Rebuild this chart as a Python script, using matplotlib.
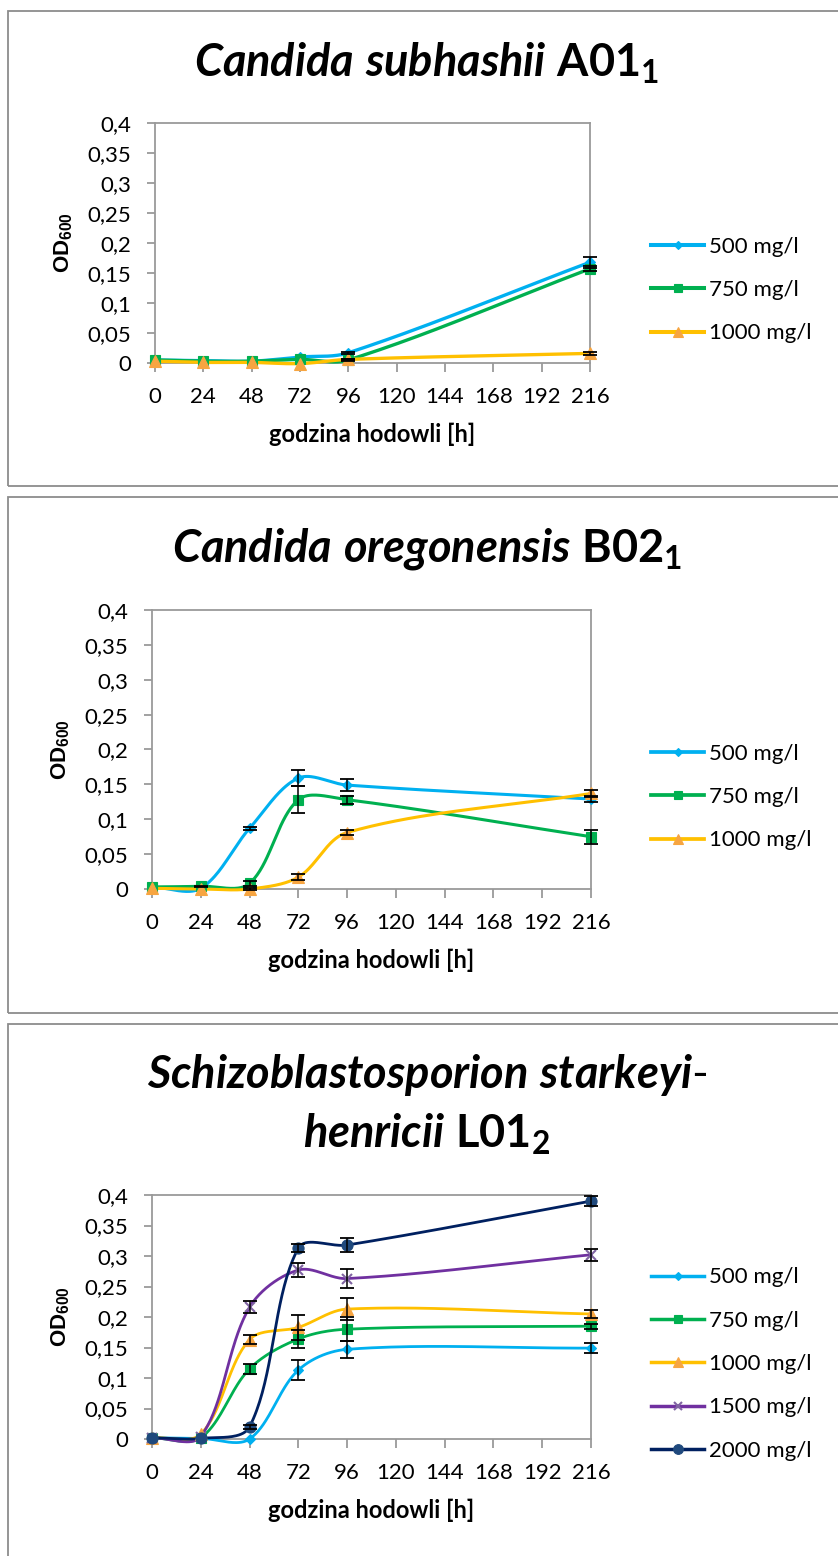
import numpy as np
import matplotlib
matplotlib.use('Agg')
import matplotlib.pyplot as plt
from matplotlib.patches import Rectangle
from matplotlib.lines import Line2D

plt.rcParams['font.family'] = ['Lato', 'DejaVu Sans']
plt.rcParams['mathtext.fontset'] = 'custom'
plt.rcParams['mathtext.it'] = 'Lato:italic:bold'
plt.rcParams['mathtext.bf'] = 'Lato:bold'
plt.rcParams['mathtext.sf'] = 'Liberation Sans:bold'

# ── dane ──────────────────────────────────────────
categories = ['0', '24', '48', '72', '96', '120', '144', '168', '192', '216']
hours = ['0', '24', '48', '72', '96', '216']
labels = ['500 mg/l', '750 mg/l', '1000 mg/l', '1500 mg/l', '2000 mg/l']
yticks = [0, 0.05, 0.1, 0.15, 0.2, 0.25, 0.3, 0.35, 0.4]
ytick_labels = ['0', '0,05', '0,1', '0,15', '0,2', '0,25', '0,3', '0,35', '0,4']

# Candida subhashii A01_1
a01_mean = [
    [0.005, 0.004, 0.003, 0.010, 0.017, 0.168],
    [0.005, 0.003, 0.003, 0.006, 0.005, 0.157],
    [0.003, 0.001, 0.001, -0.001, 0.006, 0.016],
]
a01_err = [
    [0, 0, 0, 0, 0.002, 0.009],
    [0, 0, 0, 0, 0.002, 0.004],
    [0, 0, 0, 0, 0.001, 0.002],
]

# Candida oregonensis B02_1
b02_mean = [
    [0.003, 0.001, 0.087, 0.159, 0.149, 0.129],
    [0.003, 0.004, 0.008, 0.128, 0.128, 0.075],
    [0.001, 0.000, 0.000, 0.017, 0.081, 0.137],
]
b02_err = [
    [0, 0, 0.002, 0.012, 0.009, 0.004],
    [0, 0.001, 0.004, 0.019, 0.006, 0.010],
    [0, 0, 0.001, 0.004, 0.004, 0.005],
]

# Schizoblastosporion starkeyi-henricii L01_2
l01_mean = [
    [0.002, 0.001, 0.000, 0.113, 0.147, 0.149],
    [0.002, 0.002, 0.115, 0.164, 0.180, 0.185],
    [0.002, 0.008, 0.163, 0.183, 0.213, 0.205],
    [0.002, 0.004, 0.216, 0.277, 0.263, 0.302],
    [0.002, 0.001, 0.020, 0.313, 0.318, 0.390],
]
l01_err = [
    [0, 0, 0, 0.016, 0.014, 0.008],
    [0, 0, 0.008, 0.014, 0.020, 0.004],
    [0, 0, 0.008, 0.020, 0.018, 0.006],
    [0, 0, 0.010, 0.012, 0.016, 0.010],
    [0, 0, 0.003, 0.006, 0.012, 0.008],
]

line_colors = ['#00B0F0', '#00B050', '#FFC000', '#7030A0', '#002060']
marker_face = ['#00B0F0', '#00B050', '#F7A541', '#8064A2', '#1F497D']
markers = ['D', 's', '^', 'x', 'o']
marker_sizes = [5, 7, 8, 7, 8]

W, H = 838, 1556
fig = plt.figure(figsize=(W / 100, H / 100), dpi=100)


def fx(px):
    return px / W


def fy(py):
    return 1 - py / H


def smooth(x, y, sx, sy, n=40):
    # wygładzona linia (Bezier) liczona w pikselach, jak w Excelu
    P = np.column_stack([np.asarray(x, float) * sx, np.asarray(y, float) * sy])
    out = [P[0]]
    t = np.linspace(0, 1, n)[1:, None]
    for i in range(len(P) - 1):
        pm = P[i - 1] if i > 0 else P[i]
        pp = P[i + 2] if i + 2 < len(P) else P[i + 1]
        seg = np.linalg.norm(P[i + 1] - P[i])
        l_in = np.linalg.norm(P[i] - pm)
        l_out = np.linalg.norm(pp - P[i + 1])
        c1 = P[i] + (P[i + 1] - pm) * seg / (seg + l_in) / 3
        c2 = P[i + 1] - (pp - P[i]) * seg / (seg + l_out) / 3
        b = ((1 - t) ** 3 * P[i] + 3 * (1 - t) ** 2 * t * c1
             + 3 * (1 - t) * t ** 2 * c2 + t ** 3 * P[i + 1])
        out.extend(b)
    out = np.array(out)
    return out[:, 0] / sx, out[:, 1] / sy


def panel(box, frame, means, errs, title_lines, legend_y, lw):
    # ramka wykresu
    fig.add_artist(Rectangle((fx(8), fy(frame[1])), fx(900), (frame[1] - frame[0]) / H,
                             transform=fig.transFigure, fill=False,
                             edgecolor='#8c8c8c', lw=1.3))
    l, t, r, b = box
    ax = fig.add_axes([fx(l), fy(b), fx(r - l), (b - t) / H])
    xpos = np.array([categories.index(h) for h in hours])
    px_x = (r - l) / 9
    px_y = (b - t) / 0.4
    handles = []
    for i in range(len(means)):
        m = np.array(means[i])
        e = np.array(errs[i])
        sx, sy = smooth(xpos, m, px_x, px_y)
        ax.plot(sx, sy, color=line_colors[i], lw=lw, clip_on=False, zorder=3,
                solid_capstyle='round')
        ax.plot(xpos, m, ls='none', marker=markers[i], ms=marker_sizes[i],
                mfc=marker_face[i], mec=marker_face[i],
                mew=1.5 if markers[i] == 'x' else 0.8, clip_on=False, zorder=4)
        k = e > 0
        ax.errorbar(xpos[k], m[k], yerr=e[k], fmt='none', ecolor='black',
                    elinewidth=1.1, capsize=5, capthick=1.3, clip_on=False, zorder=5)
        handles.append(Line2D([], [], color=line_colors[i], lw=lw + 0.5,
                              marker=markers[i], ms=marker_sizes[i] - 1,
                              mfc=marker_face[i], mec=marker_face[i],
                              mew=1.5 if markers[i] == 'x' else 0.8))
    ax.set_xlim(0, 9)
    ax.set_ylim(0, 0.4)
    ax.set_xticks(range(len(categories)))
    ax.set_xticklabels(categories, fontsize=16)
    ax.set_yticks(yticks)
    ax.set_yticklabels(ytick_labels, fontsize=16)
    for s in ax.spines.values():
        s.set_color('#9a9a9a')
        s.set_linewidth(1.3)
    ax.tick_params(axis='both', direction='out', width=1.3, color='#9a9a9a')
    ax.tick_params(axis='y', length=6, pad=11)
    ax.tick_params(axis='x', length=6.5, pad=11)
    ax.set_xlabel('godzina hodowli [h]', fontsize=17, fontweight='bold', labelpad=11)
    ax.set_ylabel(r'$\mathsf{OD_{600}}$', fontsize=16, labelpad=9)

    ax.legend(handles, labels[:len(means)], loc='center left',
              bbox_to_anchor=(fx(651), fy(legend_y)), bbox_transform=fig.transFigure,
              frameon=False, fontsize=16, handlelength=2.4, handletextpad=0.2,
              labelspacing=1.05, borderpad=0, borderaxespad=0)
    for txt, y in title_lines:
        fig.text(fx(427), fy(y), txt, ha='center', va='baseline', fontsize=32.5)
    return ax


panel((155, 123, 590, 363), (11, 486), a01_mean, a01_err,
      [(r'$\mathit{Candida\ subhashii}\ \mathbf{A01_1}$', 77)], 290, 2.4)
panel((152, 610, 591, 889), (497, 1013), b02_mean, b02_err,
      [(r'$\mathit{Candida\ oregonensis}\ \mathbf{B02_1}$', 562)], 797, 2.2)
panel((152, 1195, 591, 1439), (1024, 1600), l01_mean, l01_err,
      [(r'$\mathit{Schizoblastosporion\ starkeyi}$' + '-', 1088),
       (r'$\mathit{henricii}\ \mathbf{L01_2}$', 1148)], 1364, 2.0)

fig.savefig('out.png', dpi=100)
